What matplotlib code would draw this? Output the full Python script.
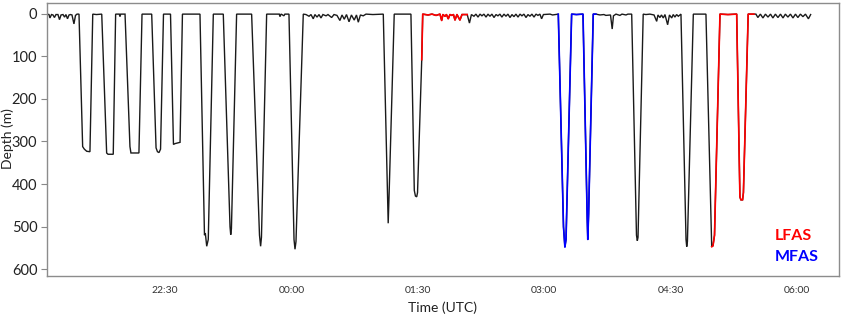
import matplotlib
matplotlib.use("Agg")
import matplotlib.pyplot as plt
import numpy as np

# Time in minutes after 21:00 (UTC), depth in metres
time_min = [
    5.8, 7.2, 7.9, 9.0, 10.1, 11.1, 12.2, 13.6, 14.7, 15.8, 17.2, 18.3, 19.3, 20.4, 21.5, 22.5, 23.6, 25.0, 26.1, 27.2, 28.6,
    31.2, 32.4, 34.1, 36.4, 38.4, 41.0, 44.8,
    48.3, 49.3, 53.0, 54.7, 57.3, 57.8, 58.3, 61.4,
    64.9, 65.6, 71.3, 73.5, 80.4,
    83.5, 84.5, 85.6, 86.7, 88.8, 93.8,
    95.9, 97.0, 100.6, 102.3, 114.8,
    118.0, 118.6, 119.6, 120.7, 124.3, 131.4,
    136.2, 136.7, 137.2, 140.9, 151.6,
    157.2, 158.0, 158.6, 162.3, 171.3, 171.8, 172.5, 173.2, 174.6, 175.3, 178.2,
    181.8, 182.5, 183.2, 188.4,
    190.3, 192.5, 193.9, 195.5, 196.7, 198.2, 199.6, 201.0, 202.4, 204.6, 206.0, 208.6, 210.3, 212.4,
    214.5, 216.0, 217.6, 219.2, 221.0, 222.7, 224.7, 226.3, 227.6, 229.1, 231.1, 233.1, 238.0, 245.4,
    248.4, 248.9, 249.6, 253.2, 265.1,
    267.5, 268.3, 269.2, 269.8, 272.8, 273.5,
    277.3, 280.1, 283.0, 285.8, 287.0, 287.9, 289.4, 290.4, 291.7, 292.9, 294.3, 295.4, 296.5, 297.9,
    300.0, 301.5, 304.3, 305.2,
    306.8, 308.2,
    310.0, 311.4, 312.9, 314.3, 315.7, 317.1, 318.6, 320.0, 321.4, 322.8, 324.3, 325.7, 327.1, 328.5,
    329.9, 331.4, 332.8, 334.2, 335.7, 337.1, 338.5, 339.9, 341.4, 342.8, 344.2, 345.6, 347.1, 348.5,
    349.9, 351.3, 352.8, 354.2, 355.6, 357.0, 358.2, 359.5, 364.2, 366.0, 370.1,
    373.8, 374.8, 375.6, 379.6, 383.0, 387.7, 390.7, 391.1, 391.7, 395.0, 396.9,
    399.8, 402.6, 404.0, 407.3, 408.5, 409.4, 411.2, 414.0, 415.5, 418.3, 419.7, 422.4,
    425.8, 426.4, 426.9, 430.6,
    432.5, 435.4, 438.3, 440.2, 441.1, 442.5, 443.6, 444.9, 446.1, 448.0, 449.3, 450.9, 452.0, 453.2,
    454.4, 455.6, 457.5,
    461.1, 461.6, 462.1, 466.3, 475.3,
    479.4, 480.3, 481.4, 485.3, 491.0, 497.2,
    499.5, 500.2, 501.4, 502.0, 505.4, 509.5,
    510.9, 512.3, 514.1, 515.9, 517.7, 519.5, 521.3, 523.0, 524.8, 526.6, 528.4, 530.2, 531.9, 533.7,
    535.5, 537.3, 539.1, 540.8, 542.6, 544.4, 546.2, 548.3, 549.9,
]
depth_m = [
    1, 2, 10, 2, 3, 9, 2, 2, 14, 3, 2, 8, 2, 12, 3, 2, 3, 24, 4, 1, 1,
    312, 318, 323, 324, 1, 2, 1,
    327, 330, 330, 1, 1, 7, 1, 1,
    312, 327, 327, 1, 1,
    315, 324, 326, 318, 1, 1,
    307, 305, 302, 1, 1,
    520, 515, 546, 530, 1, 1,
    500, 519, 505, 1, 1,
    520, 546, 525, 1, 1, 7, 1, 2, 5, 1, 1,
    530, 553, 535, 1,
    2, 6, 2, 12, 2, 8, 2, 10, 2, 5, 2, 9, 2, 4,
    16, 3, 13, 2, 19, 3, 15, 3, 20, 3, 5, 1, 2, 1,
    420, 492, 418, 1, 1,
    415, 428, 430, 420, 108, 1,
    3, 1, 4, 1, 16, 2, 6, 2, 12, 2, 4, 2, 15, 2,
    15, 2, 2, 2,
    22, 2,
    6, 1, 8, 1, 5, 1, 8, 1, 6, 1, 9, 2, 5, 1,
    8, 1, 6, 1, 9, 2, 7, 1, 8, 1, 5, 1, 9, 2,
    6, 1, 8, 1, 4, 1, 12, 2, 1, 3, 1,
    500, 548, 530, 1, 2, 1, 480, 530, 470, 1, 1,
    3, 2, 4, 3, 36, 5, 1, 4, 1, 3, 1, 1,
    520, 533, 525, 1,
    2, 1, 3, 18, 3, 9, 3, 10, 2, 26, 3, 10, 2, 8,
    2, 6, 1,
    530, 547, 535, 1, 1,
    547, 545, 520, 1, 2, 1,
    430, 437, 437, 420, 1, 1,
    1, 9, 1, 10, 1, 8, 1, 10, 1, 9, 1, 10, 1, 8,
    1, 10, 1, 9, 1, 7, 1, 12, 2,
]

lfas_periods = [(272.8, 305.2), (479.4, 509.5)]
mfas_periods = [(370.1, 396.9)]

tick_minutes = [90, 180, 270, 360, 450, 540]
tick_labels = ["22:30", "00:00", "01:30", "03:00", "04:30", "06:00"]
depth_ticks = [0, 100, 200, 300, 400, 500, 600]

FONT = ["Lato", "DejaVu Sans"]
plt.rcParams["font.family"] = FONT

t = np.array(time_min)
d = np.array(depth_m)

fig = plt.figure(figsize=(8.43, 3.18), dpi=100)
ax = fig.add_axes([47 / 843, 42 / 318, (839 - 47) / 843, (276 - 3) / 318])

ax.plot(t, d, color="#1a1a1a", lw=1.0, solid_joinstyle="miter")
for a, b in lfas_periods:
    m = (t >= a) & (t <= b)
    ax.plot(t[m], d[m], color="#ff0000", lw=1.2)
for a, b in mfas_periods:
    m = (t >= a) & (t <= b)
    ax.plot(t[m], d[m], color="#0000ff", lw=1.2)

ax.set_xlim(5.8, 570.1)
ax.set_ylim(615.8, -25.1)

ax.set_xticks(tick_minutes)
ax.set_xticklabels(tick_labels, fontsize=7.5, color="#333333")
ax.set_yticks(depth_ticks)
ax.set_yticklabels([str(v) for v in depth_ticks], fontsize=10.5, color="#222222")
ax.tick_params(axis="x", length=0, pad=7)
ax.tick_params(axis="y", length=4, width=0.8, color="#888888", pad=3)

for s in ax.spines.values():
    s.set_color("#8c8c8c")
    s.set_linewidth(1.0)

ax.set_ylabel("Depth (m)", fontsize=10, color="#222222")
ax.yaxis.set_label_coords(-0.0417, 0.505)
ax.set_xlabel("Time (UTC)", fontsize=10, color="#222222", labelpad=5)

ax.text(0.919, 0.1465, "LFAS", transform=ax.transAxes, color="#ff0000",
        fontsize=11.5, fontweight="bold", ha="left", va="center")
ax.text(0.919, 0.071, "MFAS", transform=ax.transAxes, color="#0000ff",
        fontsize=11.5, fontweight="bold", ha="left", va="center")

fig.savefig("out.png", dpi=100)
